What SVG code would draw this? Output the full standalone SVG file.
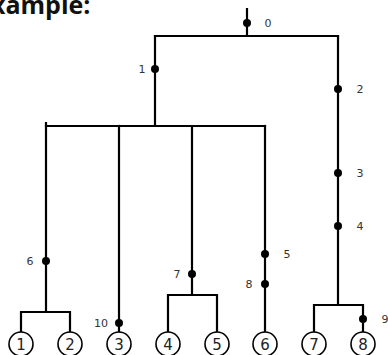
<svg xmlns="http://www.w3.org/2000/svg" width="388" height="355" viewBox="0 0 388 355">
  <style>
    .edge { stroke: #000; stroke-width: 2.2; fill: none; stroke-linecap: square; }
    .dot { fill: #000; }
    .lbl { font-family: "DejaVu Sans", sans-serif; font-size: 11px; fill: #333; text-anchor: middle; }
    .leaf circle { fill: #fff; stroke: #000; stroke-width: 1.6; }
    .leaf text { font-family: "DejaVu Sans", sans-serif; font-size: 15px; fill: #222; text-anchor: middle; }
    .title { font-family: "Open Sans", sans-serif; font-weight: bold; font-size: 25px; fill: #111; }
  </style>

  <text class="title" x="-23" y="14">Example:</text>

  <!-- tree edges -->
  <g id="connectors">
    <path class="edge" d="M247 9 V36 M155 36 H338"/>
    <path class="edge" d="M155 36 V126 M46 126 H265"/>
    <path class="edge" d="M338 36 V305 M314 305 H363 M314 305 V332 M363 305 V332"/>
    <path class="edge" d="M46 123 V312 M21 312 H70 M21 312 V332 M70 312 V332"/>
    <path class="edge" d="M119 126 V332"/>
    <path class="edge" d="M192 126 V295 M168 295 H217 M168 295 V332 M217 295 V332"/>
    <path class="edge" d="M265 126 V332"/>
  </g>

  <!-- numbered split points -->
  <g id="marks">
    <g id="m0"><circle class="dot" cx="247" cy="23" r="4"/><text class="lbl" x="268" y="27">0</text></g>
    <g id="m1"><circle class="dot" cx="155" cy="69" r="4"/><text class="lbl" x="142" y="73">1</text></g>
    <g id="m2"><circle class="dot" cx="338" cy="89" r="4"/><text class="lbl" x="360" y="93">2</text></g>
    <g id="m3"><circle class="dot" cx="338" cy="173" r="4"/><text class="lbl" x="360" y="177">3</text></g>
    <g id="m4"><circle class="dot" cx="338" cy="226" r="4"/><text class="lbl" x="360" y="230">4</text></g>
    <g id="m5"><circle class="dot" cx="265" cy="254" r="4"/><text class="lbl" x="287" y="258">5</text></g>
    <g id="m6"><circle class="dot" cx="46" cy="261" r="4"/><text class="lbl" x="30" y="265">6</text></g>
    <g id="m7"><circle class="dot" cx="192" cy="274" r="4"/><text class="lbl" x="177" y="278">7</text></g>
    <g id="m8"><circle class="dot" cx="265" cy="284" r="4"/><text class="lbl" x="249" y="288">8</text></g>
    <g id="m9"><circle class="dot" cx="363" cy="319" r="4"/><text class="lbl" x="385" y="323">9</text></g>
    <g id="m10"><circle class="dot" cx="119" cy="323" r="4"/><text class="lbl" x="101" y="327">10</text></g>
  </g>

  <!-- leaves -->
  <g id="leaf1" class="leaf"><circle cx="21" cy="344" r="12"/><text x="21" y="350">1</text></g>
  <g id="leaf2" class="leaf"><circle cx="70" cy="344" r="12"/><text x="70" y="350">2</text></g>
  <g id="leaf3" class="leaf"><circle cx="119" cy="344" r="12"/><text x="119" y="350">3</text></g>
  <g id="leaf4" class="leaf"><circle cx="168" cy="344" r="12"/><text x="168" y="350">4</text></g>
  <g id="leaf5" class="leaf"><circle cx="217" cy="344" r="12"/><text x="217" y="350">5</text></g>
  <g id="leaf6" class="leaf"><circle cx="265" cy="344" r="12"/><text x="265" y="350">6</text></g>
  <g id="leaf7" class="leaf"><circle cx="314" cy="344" r="12"/><text x="314" y="350">7</text></g>
  <g id="leaf8" class="leaf"><circle cx="363" cy="344" r="12"/><text x="363" y="350">8</text></g>
</svg>
